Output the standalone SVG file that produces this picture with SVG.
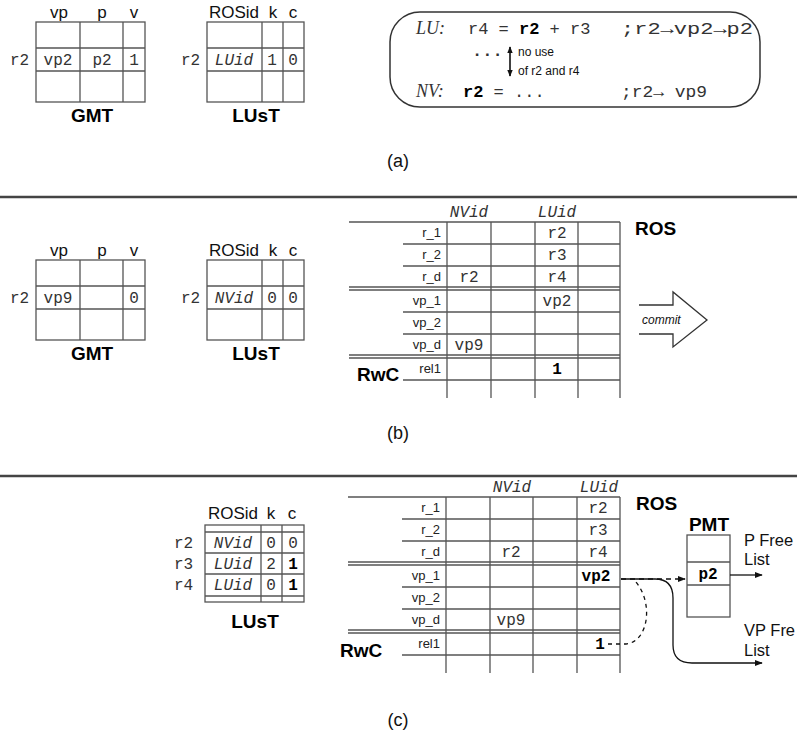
<svg xmlns="http://www.w3.org/2000/svg" width="797" height="738" viewBox="0 0 797 738">
<defs>
<marker id="ah" viewBox="0 0 10 10" refX="9" refY="5" markerWidth="8" markerHeight="8" markerUnits="userSpaceOnUse" orient="auto"><path d="M0 1 L10 5 L0 9 Z" fill="#111"/></marker>
<marker id="ahs" viewBox="0 0 10 10" refX="9" refY="5" markerWidth="7" markerHeight="7" markerUnits="userSpaceOnUse" orient="auto-start-reverse"><path d="M0 1 L10 5 L0 9 Z" fill="#111"/></marker>
</defs>
<style>
.g{fill:none;stroke:#555;stroke-width:1.3}
.sep{stroke:#444;stroke-width:2.5}
.hd{font-family:'Liberation Sans',Arial,sans-serif;font-size:17px;fill:#111;text-anchor:middle}
.ttl{font-family:'Liberation Sans',Arial,sans-serif;font-size:19px;font-weight:bold;fill:#000;text-anchor:middle}
.ttls{font-family:'Liberation Sans',Arial,sans-serif;font-size:19px;font-weight:bold;fill:#000;text-anchor:start}
.lbl{font-family:'Liberation Sans',Arial,sans-serif;font-size:13px;fill:#222;text-anchor:end}
.m{font-family:'Liberation Mono','Courier New',monospace;font-size:16px;fill:#333;text-anchor:middle}
.ml{font-family:'Liberation Mono','Courier New',monospace;font-size:16px;fill:#333}
.mi{font-style:italic}
.mb{font-weight:bold;fill:#000}
.cap{font-family:'Liberation Sans',Arial,sans-serif;font-size:18px;fill:#111;text-anchor:middle}
.sm{font-family:'Liberation Sans',Arial,sans-serif;font-size:12px;fill:#111}
.side{font-family:'Liberation Sans',Arial,sans-serif;font-size:16.5px;fill:#111}
.code{font-family:'Liberation Mono','Courier New',monospace;font-size:17px;fill:#333}
.it{font-family:'Liberation Serif','Times New Roman',serif;font-style:italic;font-size:18px;fill:#333}
</style>
<rect width="797" height="738" fill="#fff"/>

<!-- separators -->
<line class="sep" x1="0" y1="197" x2="797" y2="197"/>
<line class="sep" x1="0" y1="476" x2="797" y2="476"/>

<!-- ===== Panel (a) ===== -->
<g id="a-gmt">
<text class="hd" x="59" y="18">vp</text><text class="hd" x="102" y="18">p</text><text class="hd" x="134" y="18">v</text>
<rect class="g" x="36" y="22" width="109" height="80"/>
<path class="g" d="M80 22V102M123 22V102M36 48H145M36 71H145"/>
<text class="ml" x="10" y="65">r2</text>
<text class="m" x="58" y="65">vp2</text><text class="m" x="102" y="65">p2</text><text class="m" x="134" y="65">1</text>
<text class="ttl" x="92" y="122">GMT</text>
</g>
<g id="a-lust">
<text class="hd" x="234" y="18">ROSid</text><text class="hd" x="273" y="18">k</text><text class="hd" x="293" y="18">c</text>
<rect class="g" x="207" y="22" width="97" height="80"/>
<path class="g" d="M262 22V102M283 22V102M207 48H304M207 71H304"/>
<text class="ml" x="181" y="65">r2</text>
<text class="m mi" x="234" y="65">LUid</text><text class="m" x="272" y="65">1</text><text class="m" x="293" y="65">0</text>
<text class="ttl" x="256" y="122">LUsT</text>
</g>
<g id="a-code">
<rect x="390" y="12" width="370" height="95" rx="30" ry="30" fill="none" stroke="#333" stroke-width="1.5"/>
<text class="it" x="416" y="34">LU:</text>
<text class="code" x="468" y="34">r4 = <tspan font-weight="bold" fill="#000">r2</tspan> + r3</text>
<text class="code" x="621" y="34" textLength="132" lengthAdjust="spacingAndGlyphs">;r2→vp2→p2</text>
<text class="code" x="472" y="56" font-weight="bold" font-size="20" fill="#000">...</text>
<text class="sm" x="518" y="56">no use</text>
<text class="sm" x="518" y="75">of r2 and r4</text>
<text class="it" x="416" y="97">NV:</text>
<text class="code" x="463" y="97"><tspan font-weight="bold" fill="#000">r2</tspan> = ...</text>
<text class="code" x="621" y="97" textLength="86" lengthAdjust="spacingAndGlyphs">;r2→ vp9</text>
</g>
<text class="cap" x="398" y="167">(a)</text>

<!-- ===== Panel (b) ===== -->
<g id="b-gmt">
<text class="hd" x="59" y="256">vp</text><text class="hd" x="102" y="256">p</text><text class="hd" x="134" y="256">v</text>
<rect class="g" x="36" y="260" width="109" height="80"/>
<path class="g" d="M80 260V340M123 260V340M36 286H145M36 309H145"/>
<text class="ml" x="10" y="303">r2</text>
<text class="m" x="58" y="303">vp9</text><text class="m" x="134" y="303">0</text>
<text class="ttl" x="92" y="360">GMT</text>
</g>
<g id="b-lust">
<text class="hd" x="234" y="256">ROSid</text><text class="hd" x="273" y="256">k</text><text class="hd" x="293" y="256">c</text>
<rect class="g" x="207" y="260" width="97" height="80"/>
<path class="g" d="M262 260V340M283 260V340M207 286H304M207 309H304"/>
<text class="ml" x="181" y="303">r2</text>
<text class="m mi" x="234" y="303">NVid</text><text class="m" x="272" y="303">0</text><text class="m" x="293" y="303">0</text>
<text class="ttl" x="256" y="360">LUsT</text>
</g>
<g id="b-ros">
<text class="m mi" x="469" y="217">NVid</text><text class="m mi" x="557" y="217">LUid</text>
<path class="g" d="M349 222H620M403 244H620M403 266H620M349 287H620M349 290H620M403 312H620M403 334H620M349 355H620M349 358H620M403 380H620"/>
<path class="g" d="M447 222V398M491 222V398M535 222V398M578 222V398M620 222V398"/>
<text class="lbl" x="441" y="237">r_1</text><text class="lbl" x="441" y="259">r_2</text><text class="lbl" x="441" y="281">r_d</text>
<text class="lbl" x="441" y="305">vp_1</text><text class="lbl" x="441" y="327">vp_2</text><text class="lbl" x="441" y="349">vp_d</text>
<text class="lbl" x="441" y="373">rel1</text>
<text class="m" x="557" y="238">r2</text><text class="m" x="557" y="260">r3</text>
<text class="m" x="469" y="282">r2</text><text class="m" x="557" y="282">r4</text>
<text class="m" x="557" y="306">vp2</text>
<text class="m" x="469" y="350">vp9</text>
<text class="m mb" x="557" y="374">1</text>
<text class="ttls" x="635" y="235">ROS</text>
<text class="ttls" x="357" y="381">RwC</text>
</g>
<g id="b-commit">
<path d="M639 305H673V292L707 320L673 347V334H639" fill="none" stroke="#333" stroke-width="1.3"/>
<text class="sm" x="642" y="324" font-style="italic" font-size="13.5">commit</text>
</g>
<text class="cap" x="398" y="439">(b)</text>

<!-- ===== Panel (c) ===== -->
<g id="c-lust">
<text class="hd" x="233" y="519">ROSid</text><text class="hd" x="271" y="519">k</text><text class="hd" x="292" y="519">c</text>
<rect class="g" x="205" y="525" width="99" height="77"/>
<path class="g" d="M261 525V602M282 525V602M205 532H304M205 553H304M205 574H304M205 596H304"/>
<text class="ml" x="174" y="548">r2</text><text class="ml" x="174" y="569">r3</text><text class="ml" x="174" y="590">r4</text>
<text class="m mi" x="233" y="548">NVid</text><text class="m" x="271" y="548">0</text><text class="m" x="293" y="548">0</text>
<text class="m mi" x="233" y="569">LUid</text><text class="m" x="271" y="569">2</text><text class="m mb" x="293" y="569">1</text>
<text class="m mi" x="233" y="590">LUid</text><text class="m" x="271" y="590">0</text><text class="m mb" x="293" y="590">1</text>
<text class="ttl" x="255" y="628">LUsT</text>
</g>
<g id="c-ros">
<text class="m mi" x="512" y="492">NVid</text><text class="m mi" x="599" y="492">LUid</text>
<path class="g" d="M348 497H620M402 519H620M402 541H620M348 562H620M348 565H620M402 587H620M402 609H620M348 630H620M348 633H620M402 655H620"/>
<path class="g" d="M446 497V673M490 497V673M533 497V673M577 497V673M620 497V673"/>
<text class="lbl" x="440" y="512">r_1</text><text class="lbl" x="440" y="534">r_2</text><text class="lbl" x="440" y="556">r_d</text>
<text class="lbl" x="440" y="580">vp_1</text><text class="lbl" x="440" y="602">vp_2</text><text class="lbl" x="440" y="624">vp_d</text>
<text class="lbl" x="440" y="648">rel1</text>
<text class="m" x="598" y="513">r2</text><text class="m" x="598" y="535">r3</text>
<text class="m" x="511" y="557">r2</text><text class="m" x="598" y="557">r4</text>
<text class="m mb" x="596" y="581">vp2</text>
<text class="m" x="511" y="625">vp9</text>
<text class="m mb" x="600" y="649">1</text>
<text class="ttls" x="636" y="510">ROS</text>
<text class="ttls" x="340" y="657">RwC</text>
</g>
<g id="c-pmt">
<text class="ttl" x="709" y="531">PMT</text>
<rect class="g" x="687" y="535" width="43" height="82"/>
<path class="g" d="M687 562H730M687 585H730"/>
<text class="m mb" x="708" y="579">p2</text>
</g>
<g id="c-pfree"><text class="side" x="744" y="546">P Free</text><text class="side" x="744" y="565">List</text></g>
<g id="c-vpfree"><text class="side" x="744" y="636">VP Fre</text><text class="side" x="744" y="656">List</text></g>
<text class="cap" x="398" y="726">(c)</text>

<!-- connectors -->
<g id="connectors" fill="none" stroke="#111" stroke-width="1.3">
<line x1="510" y1="47" x2="510" y2="76" stroke-width="1.6" marker-start="url(#ahs)" marker-end="url(#ahs)"/>
<path d="M621 579H685" stroke-dasharray="5 4" marker-end="url(#ah)"/>
<path d="M621 579H655Q673 579 673 598V645Q673 663 692 663H762" marker-end="url(#ah)"/>
<path d="M608 644H626C648 642 654 604 636 582" stroke-dasharray="4 4"/>
<path d="M730 575H762" marker-end="url(#ah)"/>
</g>
</svg>
